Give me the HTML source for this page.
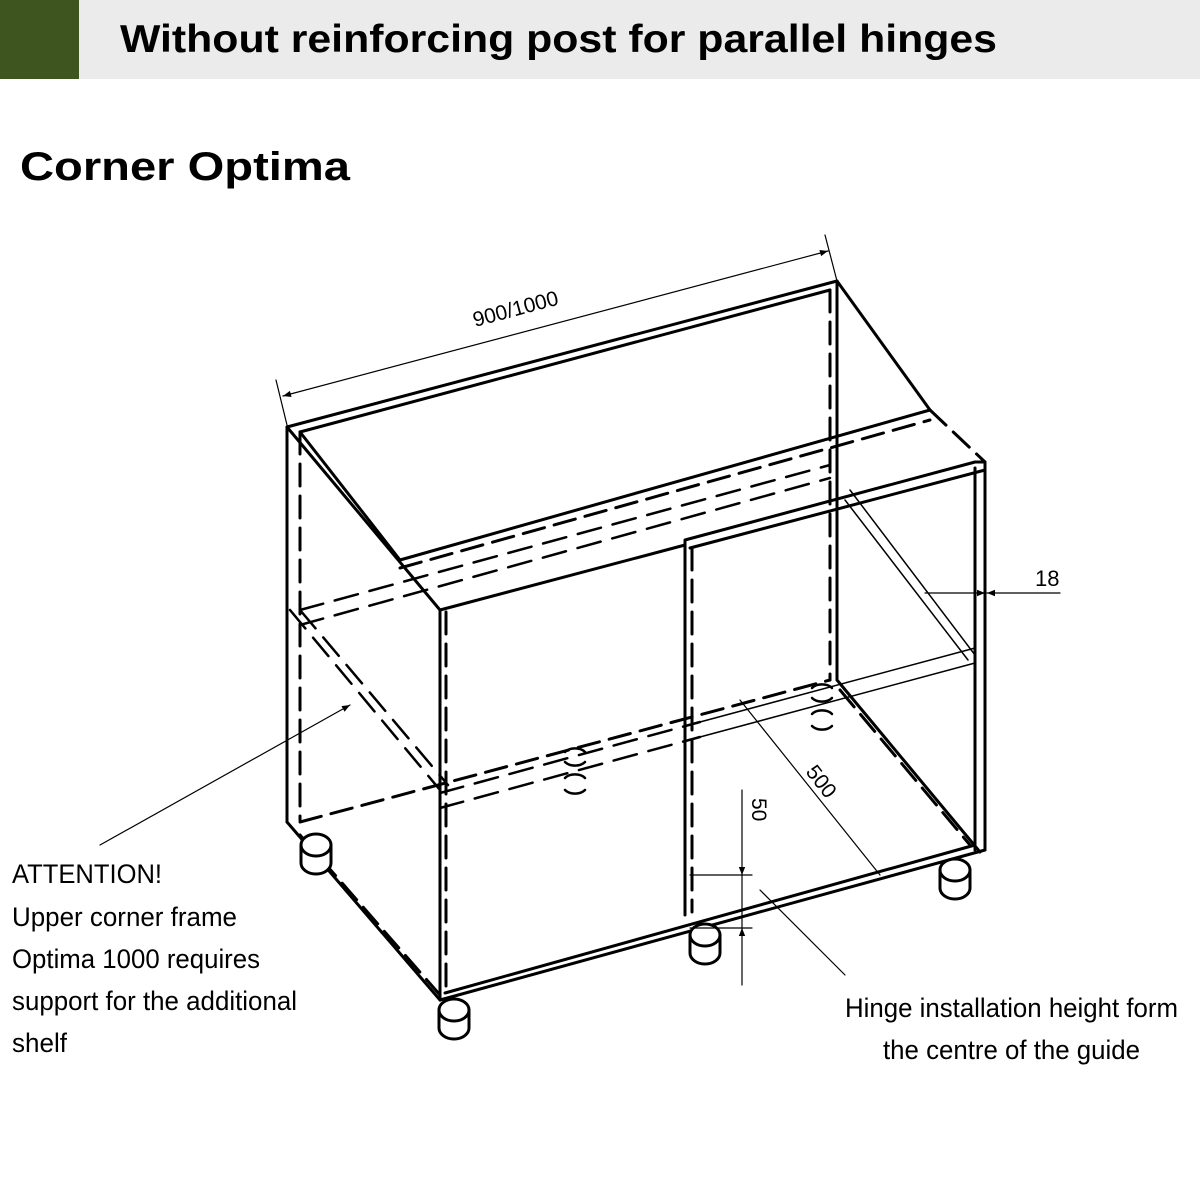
<!DOCTYPE html>
<html><head><meta charset="utf-8"><style>
html,body{margin:0;padding:0;background:#fff;}
svg{display:block;}
text{font-family:"Liberation Sans",Arial,sans-serif;}
</style></head><body>
<svg width="1200" height="1200" viewBox="0 0 1200 1200" xmlns="http://www.w3.org/2000/svg">
<defs>
<marker id="ar" viewBox="0 0 10 10" refX="10" refY="5" markerWidth="12" markerHeight="8" orient="auto-start-reverse" markerUnits="userSpaceOnUse"><path d="M0,1 L10,5 L0,9 z" fill="#000"/></marker>
</defs>
<rect x="0" y="0" width="1200" height="79" fill="#ebebeb"/>
<rect x="0" y="0" width="79" height="79" fill="#3f5520"/>
<text x="120" y="52" font-size="39" font-weight="bold" textLength="877" lengthAdjust="spacingAndGlyphs">Without reinforcing post for parallel hinges</text>
<text x="20" y="180" font-size="40" font-weight="bold" textLength="330" lengthAdjust="spacingAndGlyphs">Corner Optima</text>

<g fill="none" stroke="#000" stroke-linecap="round" stroke-linejoin="round">
<!-- top face -->
<g stroke-width="3">
<polyline points="287,427 837,281 930,410"/>
<line x1="300" y1="432" x2="830" y2="290"/>
<line x1="287" y1="427" x2="440" y2="610"/>
<line x1="300" y1="432" x2="400" y2="560"/>
<line x1="400" y1="560" x2="930" y2="410"/>
<polyline points="440,610 685,545 685,540 975,462 985,462"/>
<line x1="690" y1="548" x2="985" y2="470"/>
<!-- verticals -->
<line x1="287" y1="427" x2="287" y2="822"/>
<line x1="440" y1="610" x2="440" y2="1000"/>
<line x1="837" y1="281" x2="837" y2="680"/>
<line x1="985" y1="462" x2="985" y2="850"/>
<line x1="975" y1="468" x2="975" y2="850"/>
<line x1="685" y1="545" x2="685" y2="915"/>
<!-- bottom -->
<line x1="287" y1="822" x2="440" y2="1000"/>
<line x1="440" y1="1000" x2="985" y2="850"/>
<line x1="445" y1="993" x2="975" y2="845"/>
<line x1="837" y1="680" x2="980" y2="852"/>
</g>
<g stroke-width="3" stroke-dasharray="22,10">
<line x1="930" y1="410" x2="985" y2="462"/>
<line x1="300" y1="432" x2="300" y2="820"/>
<line x1="446" y1="612" x2="446" y2="995"/>
<line x1="830" y1="290" x2="830" y2="680"/>
<line x1="692" y1="548" x2="692" y2="912"/>
<line x1="300" y1="822" x2="830" y2="680"/>
<line x1="300" y1="835" x2="440" y2="995"/>
<line x1="400" y1="568" x2="930" y2="420"/>
<line x1="840" y1="690" x2="970" y2="845"/>
</g>
<g stroke-width="2.5" stroke-dasharray="24,12">
<line x1="300" y1="610" x2="830" y2="465"/>
<line x1="300" y1="625" x2="830" y2="478"/>
<line x1="290" y1="610" x2="440" y2="790"/>
<line x1="300" y1="610" x2="448" y2="785"/>
<line x1="440" y1="793" x2="700" y2="722"/>
<line x1="440" y1="808" x2="700" y2="737"/>
</g>
<g stroke-width="1.5">
<line x1="700" y1="722" x2="975" y2="648"/>
<line x1="700" y1="737" x2="975" y2="663"/>
<line x1="850" y1="490" x2="975" y2="655"/>
<line x1="845" y1="500" x2="968" y2="660"/>
</g>
<!-- legs -->
<g stroke-width="3" fill="#fff">
<path d="M301,845 v18 a15,11 0 0 0 30,0 v-18"/><ellipse cx="316" cy="845" rx="15" ry="11"/>
<path d="M439,1010 v18 a15,11 0 0 0 30,0 v-18"/><ellipse cx="454" cy="1010" rx="15" ry="11"/>
<path d="M690,935 v18 a15,11 0 0 0 30,0 v-18"/><ellipse cx="705" cy="935" rx="15" ry="11"/>
<path d="M940,870 v18 a15,11 0 0 0 30,0 v-18"/><ellipse cx="955" cy="870" rx="15" ry="11"/>
</g>
<!-- cups -->
<g stroke-width="2.5">
<path d="M565,752 a12,8 0 0 1 20,0 M565,762 a12,8 0 0 0 20,0 M565,778 a12,8 0 0 1 20,0 M565,790 a12,8 0 0 0 20,0"/>
<path d="M812,688 a12,8 0 0 1 20,0 M812,698 a12,8 0 0 0 20,0 M812,714 a12,8 0 0 1 20,0 M812,726 a12,8 0 0 0 20,0"/>
</g>
<!-- dimensions -->
<g stroke-width="1.2">
<line x1="276" y1="380" x2="287" y2="425"/>
<line x1="825" y1="235" x2="837" y2="281"/>
<line x1="283" y1="396" x2="828" y2="251" marker-start="url(#ar)" marker-end="url(#ar)"/>
<line x1="925" y1="593" x2="985" y2="593" marker-end="url(#ar)"/>
<line x1="1060" y1="593" x2="987" y2="593" marker-end="url(#ar)"/>
<line x1="740" y1="700" x2="880" y2="875"/>
<line x1="742" y1="790" x2="742" y2="875" marker-end="url(#ar)"/>
<line x1="742" y1="985" x2="742" y2="928" marker-end="url(#ar)"/>
<line x1="742" y1="875" x2="742" y2="928"/>
<line x1="690" y1="875" x2="752" y2="875"/>
<line x1="690" y1="928" x2="752" y2="928"/>
<line x1="100" y1="845" x2="350" y2="705" marker-end="url(#ar)"/>
<line x1="760" y1="890" x2="845" y2="975"/>
</g>
</g>
<text transform="translate(475,327) rotate(-15)" font-size="21">900/1000</text>
<text x="1035" y="586" font-size="22">18</text>
<text transform="translate(805,772) rotate(52)" font-size="21">500</text>
<text transform="translate(752,798) rotate(90)" font-size="21">50</text>
<g font-size="27">
<text x="12" y="883" textLength="150" lengthAdjust="spacingAndGlyphs">ATTENTION!</text>
<text x="12" y="926" textLength="225" lengthAdjust="spacingAndGlyphs">Upper corner frame</text>
<text x="12" y="968" textLength="248" lengthAdjust="spacingAndGlyphs">Optima 1000 requires</text>
<text x="12" y="1010" textLength="285" lengthAdjust="spacingAndGlyphs">support for the additional</text>
<text x="12" y="1052" textLength="55" lengthAdjust="spacingAndGlyphs">shelf</text>
<text x="845" y="1017" textLength="333" lengthAdjust="spacingAndGlyphs">Hinge installation height form</text>
<text x="883" y="1059" textLength="257" lengthAdjust="spacingAndGlyphs">the centre of the guide</text>
</g>
</svg>
</body></html>
